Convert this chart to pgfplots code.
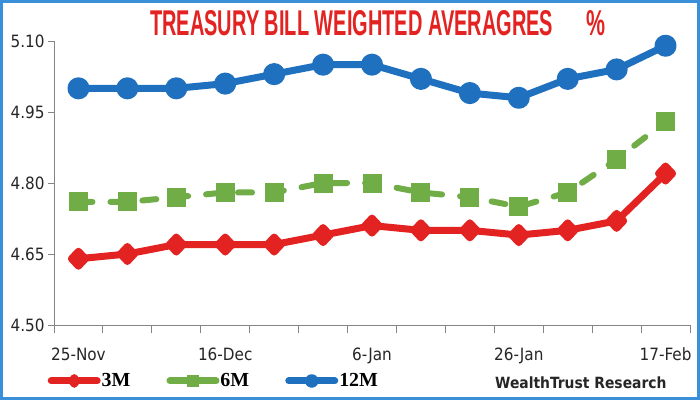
\documentclass[border=0pt]{standalone}
\usepackage{pgfplots}
\pgfplotsset{compat=1.18}
\usepackage{fontspec}
\setmainfont{DejaVu Sans Condensed}
\newfontfamily\cond{DejaVu Sans Condensed}
\newfontfamily\titlefont{Liberation Sans}
\newfontfamily\legfont{Liberation Serif}
\definecolor{cred}{HTML}{E32322}
\definecolor{cgreen}{HTML}{70AD47}
\definecolor{cblue}{HTML}{1F71C0}
\definecolor{cframe}{HTML}{3A8FD9}
\definecolor{caxis}{HTML}{858585}
\begin{document}
\begin{tikzpicture}[x=1bp,y=1bp]
\useasboundingbox (0,0) rectangle (700,400);
\fill[white] (0,0) rectangle (700,400);
\begin{axis}[
  at={(54bp,75bp)}, anchor=south west,
  scale only axis, width=636bp, height=284bp,
  xmin=-0.5, xmax=12.5, ymin=4.5, ymax=5.1,
  axis x line*=bottom, axis y line*=left,
  axis line style={caxis, line width=1bp},
  xtick={0,3,6,9,12},
  xticklabels={25-Nov,16-Dec,6-Jan,26-Jan,17-Feb},
  xticklabel style={yshift=-13bp},
  major x tick style={draw=none},
  minor xtick={-0.5,0.5,...,12.5},
  ytick={4.5,4.65,4.8,4.95,5.1},
  /pgf/number format/assume math mode=true,
  yticklabel style={/pgf/number format/fixed, /pgf/number format/precision=2, /pgf/number format/fixed zerofill},
  tick align=outside,
  tick style={caxis, line width=1bp},
  major tick length=6bp, minor tick length=8bp,
  tick label style={font=\fontsize{17}{20}\selectfont, text=black!85},
  legend columns=3,
  legend style={draw=none, fill=none, at={(-0.0102,-0.197)}, anchor=west, inner sep=0pt,
     nodes={inner sep=1bp},
     font=\fontsize{20}{22}\selectfont\legfont\bfseries,
     /tikz/every even column/.append style={column sep=35bp}},
  legend cell align=left,
  legend image code/.code={%
    \draw[#1, solid, line width=7bp, line cap=round, mark repeat=2, mark phase=2, mark options={scale=0.45, solid}]
      plot coordinates {(0bp,0bp) (23bp,0bp) (46bp,0bp)};},
  clip=false,
]
\addplot[cred, line width=7bp, line join=round, mark=diamond*, mark size=7.5bp, mark options={solid, xscale=1.25}]
  coordinates {(0,4.64) (1,4.65) (2,4.67) (3,4.67) (4,4.67) (5,4.69) (6,4.71) (7,4.70) (8,4.70) (9,4.69) (10,4.70) (11,4.72) (12,4.82)};
\addlegendentry{3M}
\addplot[cgreen, line width=6bp, dash pattern=on 14bp off 18bp, line cap=round, mark=square*, mark size=6.5bp, mark options={solid}]
  coordinates {(0,4.76) (1,4.76) (2,4.77) (3,4.78) (4,4.78) (5,4.80) (6,4.80) (7,4.78) (8,4.77) (9,4.75) (10,4.78) (11,4.85) (12,4.93)};
\addlegendentry{6M}
\addplot[cblue, line width=7bp, line join=round, mark=*, mark size=7.5bp, mark options={solid}]
  coordinates {(0,5.00) (1,5.00) (2,5.00) (3,5.01) (4,5.03) (5,5.05) (6,5.05) (7,5.02) (8,4.99) (9,4.98) (10,5.02) (11,5.04) (12,5.09)};
\addlegendentry{12M}
\end{axis}
\node[anchor=base west, inner sep=0, text=cred] at (150,364) {\resizebox{403bp}{25bp}{\titlefont\bfseries TREASURY BILL WEIGHTED AVERAGRES}};
\node[anchor=base west, inner sep=0, text=cred] at (586,364) {\resizebox{19bp}{25bp}{\titlefont\bfseries\%}};
\node[anchor=base west, inner sep=0, text=black!85] at (495,12) {\fontsize{15.5}{18}\selectfont\cond\bfseries WealthTrust Research};
\draw[cframe, line width=3bp] (1.5,1.5) rectangle (698.5,398.5);
\end{tikzpicture}
\end{document}
